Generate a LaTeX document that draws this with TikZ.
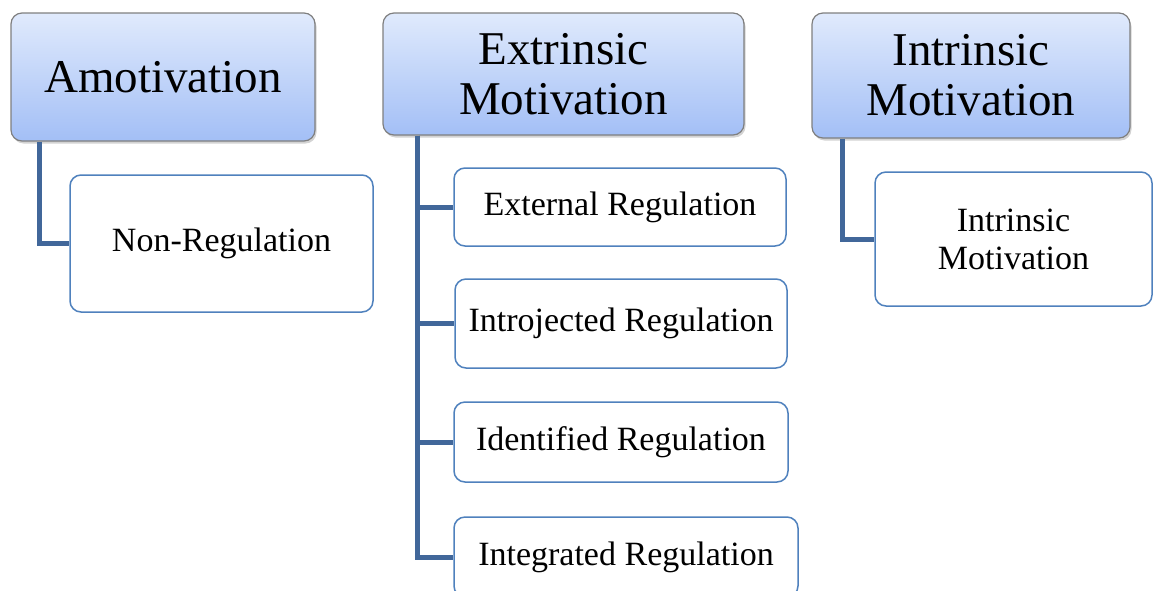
\documentclass[tikz,border=0pt]{standalone}
\usepackage{fontspec}
\setmainfont{Liberation Serif}
\usetikzlibrary{shadows}

\definecolor{hdtop}{HTML}{E0EAFC}
\definecolor{hdbot}{HTML}{A3BFF6}
\definecolor{hdline}{HTML}{7F7F7F}
\definecolor{boxline}{HTML}{4F81BD}
\definecolor{linkcol}{HTML}{41679A}

\tikzset{
  header/.style={rectangle, rounded corners=11pt, draw=hdline, line width=1.2pt,
    top color=hdtop, bottom color=hdbot, inner sep=0pt, align=center,
    font=\fontsize{47}{50}\selectfont,
    drop shadow={opacity=0.35, shadow xshift=1.5pt, shadow yshift=-2.5pt}},
  leaf/.style={rectangle, rounded corners=11pt, draw=boxline, line width=1.5pt,
    fill=white, inner sep=0pt, align=center,
    font=\fontsize{34}{38}\selectfont},
  link/.style={draw=linkcol, line width=5pt, line join=miter}
}

\begin{document}
\begin{tikzpicture}[x=1pt, y=-1pt]
		%%%%% START %%%%%
		
		\useasboundingbox (0, 0) rectangle (1153, 590);
		\clip (0, 0) rectangle (1153, 590);
		
		% top row
		\node[header, minimum width=304pt, minimum height=128pt] (amo) at (163, 77) {Amotivation};
		\node[header, minimum width=361pt, minimum height=122pt] (extr) at (563.5, 74) {Extrinsic\\Motivation};
		\node[header, minimum width=318pt, minimum height=125pt] (intr) at (971, 75.5) {Intrinsic\\Motivation};
		
		% regulation boxes
		\node[leaf, minimum width=303pt, minimum height=137pt] (nonreg) at (221.5, 243.5) {Non-Regulation};
		
		\node[leaf, minimum width=332pt, minimum height=78pt] (extreg) at (620, 207) {External Regulation};
		\node[leaf, minimum width=332pt, minimum height=89pt] (introreg) at (621, 323.5) {Introjected Regulation};
		\node[leaf, minimum width=334pt, minimum height=80pt] (identreg) at (621, 442) {Identified Regulation};
		\node[leaf, minimum width=344pt, minimum height=80pt] (integreg) at (626, 557) {Integrated Regulation};
		
		\node[leaf, minimum width=277pt, minimum height=134pt] (intrreg) at (1013.5, 239) {Intrinsic\\Motivation};
		
		% connectors
		\draw[link] ([xshift=29pt]amo.south west) |- (nonreg.west);
		
		\draw[link] ([xshift=35pt]extr.south west) |- (integreg.west);
		\draw[link] ([xshift=35pt]extr.south west) |- (extreg.west);
		\draw[link] ([xshift=35pt]extr.south west) |- (introreg.west);
		\draw[link] ([xshift=35pt]extr.south west) |- (identreg.west);
		
		\draw[link] ([xshift=31pt]intr.south west) |- (intrreg.west);
		
		%%%%% END %%%%%
	\end{tikzpicture}
\end{document}
